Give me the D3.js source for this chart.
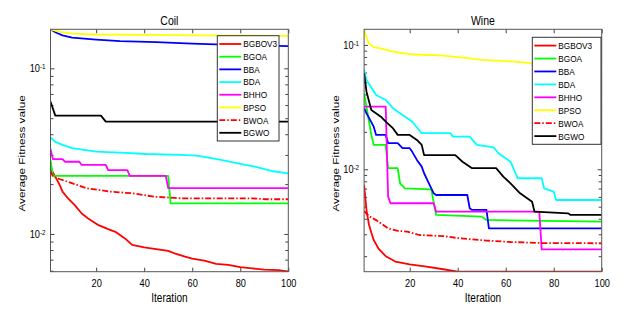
<!DOCTYPE html>
<html>
<head>
<meta charset="utf-8">
<script src="https://cdn.jsdelivr.net/npm/d3@7"></script>
<style>
body { margin: 0; background: #fff; }
svg text { font-family: "Liberation Sans", Arial, sans-serif; fill: #000; }
</style>
</head>
<body>
<svg width="625" height="316"></svg>
<script>
const seriesNames = [ 'BGBOV3', 'BGOA', 'BBA', 'BDA', 'BHHO', 'BPSO', 'BWOA', 'BGWO' ];
const seriesColors = [ '#ff0000', '#00ff00', '#0000ff', '#00ffff', '#ff00ff', '#ffff00', '#ff0000', '#000000' ];
const seriesDash = [ null, null, null, null, null, null, '6,2,1.5,2', null ];
const xTickValues = [ 20, 40, 60, 80, 100 ];
const xDomain = [ 1, 100 ];

// Coil -- [iteration, average fitness]
const coilBGBOV3 = [ [1,0.025],[2,0.0235],[3,0.0222],[5,0.0195],[6,0.018],[8,0.0166],[11,0.015],[14,0.0133],[17,0.0123],[21,0.0113],[25,0.0107],[28,0.0103],[32,0.0094],[35,0.0086],[40,0.0083],[45,0.0081],[50,0.0079],[53,0.0076],[57,0.0073],[60,0.0071],[65,0.0069],[70,0.0066],[75,0.0065],[80,0.0063],[85,0.0062],[90,0.0061],[96,0.00605],[100,0.00592] ];
const coilBGOA = [ [1,0.028],[2,0.0224],[50,0.0224],[51,0.0153],[100,0.0153] ];
const coilBBA = [ [1,0.172],[3,0.165],[6,0.158],[10,0.153],[20,0.149],[30,0.146],[45,0.144],[60,0.141],[80,0.138],[100,0.136] ];
const coilBDA = [ [1,0.0383],[3,0.036],[6,0.0345],[10,0.033],[20,0.0314],[30,0.031],[41,0.0304],[55,0.030],[62,0.0297],[72,0.028],[80,0.0265],[86,0.0255],[93,0.024],[100,0.0232] ];
const coilBHHO = [ [1,0.0326],[2,0.0283],[6,0.0283],[7,0.0273],[13,0.0273],[14,0.0261],[24,0.0261],[25,0.0243],[33,0.0243],[34,0.0224],[49,0.0224],[50,0.0189],[100,0.0189] ];
const coilBPSO = [ [1,0.172],[5,0.166],[10,0.162],[20,0.160],[40,0.159],[60,0.158],[100,0.157] ];
const coilBWOA = [ [1,0.024],[2,0.0222],[5,0.0214],[8,0.0207],[12,0.0198],[16,0.0189],[26,0.0180],[35,0.0176],[44,0.0168],[56,0.0164],[85,0.0164],[91,0.0162],[100,0.0162] ];
const coilBGWO = [ [1,0.063],[3,0.0518],[22,0.0518],[24,0.0477],[100,0.0477] ];

// Wine -- [iteration, average fitness]
const wineBGBOV3 = [ [1,0.0075],[2,0.0047],[3,0.0036],[4,0.0031],[5,0.0027],[7,0.0023],[10,0.0020],[14,0.00181],[20,0.00172],[27,0.00165],[34,0.00157],[40,0.0015],[100,0.0015] ];
const wineBGOA = [ [1,0.0409],[4,0.0189],[5,0.0157],[10,0.0157],[11,0.0102],[15,0.0102],[16,0.00771],[18,0.00703],[29,0.0069],[31,0.00429],[50,0.00416],[52,0.00391],[100,0.00379] ];
const wineBBA = [ [1,0.031],[2,0.0282],[5,0.022],[6,0.0189],[10,0.0189],[11,0.0162],[15,0.0162],[17,0.01477],[20,0.01477],[21,0.01387],[23,0.01189],[25,0.0105],[26,0.00929],[28,0.00771],[30,0.00641],[31,0.00621],[44,0.00621],[45,0.00486],[46,0.00471],[52,0.00471],[53,0.00335],[100,0.00335] ];
const wineBDA = [ [1,0.0629],[2,0.0523],[6,0.0396],[10,0.0361],[13,0.031],[17,0.0273],[21,0.0242],[25,0.0195],[37,0.0195],[38,0.0183],[45,0.0183],[48,0.0157],[55,0.0150],[57,0.01345],[62,0.0115],[65,0.00847],[75,0.00847],[76,0.00703],[80,0.0066],[81,0.00566],[100,0.00566] ];
const wineBHHO = [ [1,0.0319],[10,0.0319],[11,0.00603],[12,0.00533],[30,0.00533],[31,0.00456],[74,0.00456],[75,0.00227],[100,0.00227] ];
const wineBPSO = [ [1,0.1336],[2,0.115],[3,0.103],[5,0.096],[8,0.094],[13,0.0884],[20,0.0842],[34,0.082],[45,0.078],[50,0.0757],[64,0.0734],[70,0.0713],[85,0.071],[100,0.069] ];
const wineBWOA = [ [1,0.0046],[3,0.0042],[6,0.0039],[11,0.00335],[15,0.0032],[19,0.00315],[24,0.00296],[34,0.0029],[41,0.00278],[52,0.00267],[62,0.0026],[75,0.00255],[100,0.00254] ];
const wineBGWO = [ [1,0.0592],[2,0.0421],[4,0.030],[8,0.0265],[10,0.0242],[13,0.0214],[15,0.0189],[20,0.0189],[23,0.0172],[25,0.0157],[26,0.0130],[39,0.0130],[42,0.0115],[46,0.0102],[56,0.0102],[59,0.00872],[62,0.00771],[66,0.00641],[71,0.00548],[72,0.00456],[86,0.00442],[87,0.00429],[100,0.00429] ];

const coilSeries = [ coilBGBOV3, coilBGOA, coilBBA, coilBDA, coilBHHO, coilBPSO, coilBWOA, coilBGWO ];
const wineSeries = [ wineBGBOV3, wineBGOA, wineBBA, wineBDA, wineBHHO, wineBPSO, wineBWOA, wineBGWO ];

const panels = [
    { title: 'Coil', series: coilSeries, box: { left: 50.5, right: 288.3, top: 29.3, bottom: 271.7 },
      legend: { x: 217.3, y: 35.7, w: 61.7, h: 105.3 }, yLabelX: 21 },
    { title: 'Wine', series: wineSeries, box: { left: 364.1, right: 601.7, top: 29.3, bottom: 271.7 },
      legend: { x: 532.3, y: 37.3, w: 68.7, h: 107 }, yLabelX: 334.5 }
];

// the picture is squeezed sideways, so horizontal text is narrowed
const squeeze = 0.84;

const svg = d3.select( 'svg' );

function narrow( selection ) {
    selection.each( function () {
        const t = d3.select( this );
        const x = +t.attr( 'x' ) || 0;
        t.attr( 'x', x / squeeze ).attr( 'transform', `scale(${squeeze},1)` );
    } );
}

function superscriptTicks( group ) {
    group.selectAll( '.tick text' ).each( function ( d ) {
        const t = d3.select( this );
        const exp = Math.round( Math.log10( d ) );
        t.text( null );
        t.append( 'tspan' ).text( '10' );
        t.append( 'tspan' ).attr( 'dy', '-0.45em' ).style( 'font-size', '7.5px' ).text( exp );
    } );
}

function styleAxis( group ) {
    group.select( '.domain' ).remove();
    group.selectAll( '.tick line' ).attr( 'stroke', '#444' );
}

function drawPanel( panel, index ) {
    const b = panel.box;
    const allValues = panel.series.flatMap( s => s.map( d => d[ 1 ] ) );

    const x = d3.scaleLinear().domain( xDomain ).range( [ b.left, b.right ] );
    const y = d3.scaleLog().domain( d3.extent( allValues ) ).range( [ b.bottom, b.top ] );

    const g = svg.append( 'g' ).attr( 'class', 'panel' );

    g.append( 'clipPath' ).attr( 'id', 'clip' + index )
        .append( 'rect' )
        .attr( 'x', b.left ).attr( 'y', b.top )
        .attr( 'width', b.right - b.left ).attr( 'height', b.bottom - b.top );

    const majors = y.ticks().filter( v => Math.abs( Math.log10( v ) - Math.round( Math.log10( v ) ) ) < 1e-9 );
    const minors = y.ticks().filter( v => majors.indexOf( v ) < 0 );

    // bottom + top x axes
    const xb = g.append( 'g' ).attr( 'transform', `translate(0,${b.bottom})` )
        .call( d3.axisBottom( x ).tickValues( xTickValues ).tickSize( -4 ).tickPadding( 7 ) );
    xb.selectAll( 'text' ).style( 'font-size', '11px' );
    narrow( xb.selectAll( 'text' ) );
    styleAxis( xb );
    const xt = g.append( 'g' ).attr( 'transform', `translate(0,${b.top})` )
        .call( d3.axisTop( x ).tickValues( xTickValues ).tickSize( -4 ).tickFormat( '' ) );
    styleAxis( xt );

    // left + right y axes
    const yl = g.append( 'g' ).attr( 'transform', `translate(${b.left},0)` )
        .call( d3.axisLeft( y ).tickValues( majors ).tickSize( -4 ).tickPadding( 5 ) );
    yl.selectAll( 'text' ).style( 'font-size', '11px' );
    superscriptTicks( yl );
    narrow( yl.selectAll( '.tick text' ) );
    styleAxis( yl );
    const ylm = g.append( 'g' ).attr( 'transform', `translate(${b.left},0)` )
        .call( d3.axisLeft( y ).tickValues( minors ).tickSize( -3 ).tickFormat( '' ) );
    styleAxis( ylm );
    const yr = g.append( 'g' ).attr( 'transform', `translate(${b.right},0)` )
        .call( d3.axisRight( y ).tickValues( majors ).tickSize( -4 ).tickFormat( '' ) );
    styleAxis( yr );
    const yrm = g.append( 'g' ).attr( 'transform', `translate(${b.right},0)` )
        .call( d3.axisRight( y ).tickValues( minors ).tickSize( -3 ).tickFormat( '' ) );
    styleAxis( yrm );

    // curves
    const line = d3.line().x( d => x( d[ 0 ] ) ).y( d => y( d[ 1 ] ) );
    const lines = g.append( 'g' ).attr( 'clip-path', `url(#clip${index})` );
    panel.series.forEach( ( s, i ) => {
        lines.append( 'path' )
            .datum( s )
            .attr( 'd', line )
            .attr( 'fill', 'none' )
            .attr( 'stroke', seriesColors[ i ] )
            .attr( 'stroke-width', 1.8 )
            .attr( 'stroke-linejoin', 'round' )
            .attr( 'stroke-dasharray', seriesDash[ i ] );
    } );

    // frame
    g.append( 'rect' )
        .attr( 'x', b.left ).attr( 'y', b.top )
        .attr( 'width', b.right - b.left ).attr( 'height', b.bottom - b.top )
        .attr( 'fill', 'none' ).attr( 'stroke', '#555' ).attr( 'stroke-width', 1 );

    // labels
    const cx = ( b.left + b.right ) / 2;
    const title = g.append( 'text' ).attr( 'x', cx ).attr( 'y', 25 )
        .attr( 'text-anchor', 'middle' ).style( 'font-size', '12.5px' ).text( panel.title );
    narrow( title );
    const xLabel = g.append( 'text' ).attr( 'x', cx ).attr( 'y', 302 )
        .attr( 'text-anchor', 'middle' ).style( 'font-size', '12px' ).text( 'Iteration' );
    narrow( xLabel );
    g.append( 'text' )
        .attr( 'transform', `translate(${panel.yLabelX + 4},${153.4}) rotate(-90) scale(1,${squeeze})` )
        .attr( 'text-anchor', 'middle' ).style( 'font-size', '11.8px' ).text( 'Average Fitness value' );

    // legend
    const L = panel.legend;
    const lg = g.append( 'g' );
    lg.append( 'rect' ).attr( 'x', L.x ).attr( 'y', L.y ).attr( 'width', L.w ).attr( 'height', L.h )
        .attr( 'fill', '#fff' ).attr( 'stroke', '#333' ).attr( 'stroke-width', 1 );
    const step = ( L.h - 16.5 ) / 7;
    seriesNames.forEach( ( name, i ) => {
        const yy = L.y + 8.3 + i * step;
        lg.append( 'line' )
            .attr( 'x1', L.x + 2 ).attr( 'x2', L.x + 24 ).attr( 'y1', yy ).attr( 'y2', yy )
            .attr( 'stroke', seriesColors[ i ] ).attr( 'stroke-width', 1.8 )
            .attr( 'stroke-dasharray', seriesDash[ i ] );
        const label = lg.append( 'text' ).attr( 'x', L.x + 26 ).attr( 'y', yy ).attr( 'dy', '0.35em' )
            .style( 'font-size', '9.8px' ).text( name );
        narrow( label );
    } );
}

panels.forEach( drawPanel );
</script>
</body>
</html>
